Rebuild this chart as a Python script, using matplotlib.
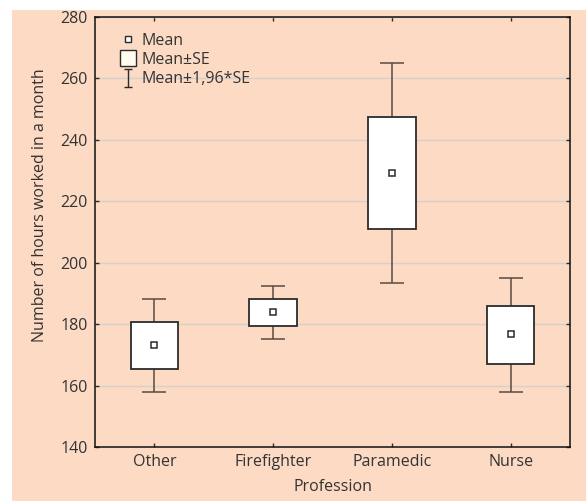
import numpy as np
import matplotlib.pyplot as plt
from matplotlib.lines import Line2D
from matplotlib.path import Path
from matplotlib.patches import Rectangle

plt.rcParams['font.family'] = ['Open Sans', 'DejaVu Sans']

# ---------- data ----------
professions = ["Other", "Firefighter", "Paramedic", "Nurse"]
means = [173.1, 183.9, 229.2, 176.7]
se_low = [165.4, 179.3, 211.0, 167.0]
se_high = [180.8, 188.1, 247.3, 185.8]
ci_low = [158.0, 175.1, 193.5, 157.9]
ci_high = [188.2, 192.4, 264.8, 195.0]
yticks = [140, 160, 180, 200, 220, 240, 260, 280]

peach = "#fddac4"
edge = "#2b2b2b"
whisk = "#5a4a44"
text_col = "#333333"
fs = 11.5

fig = plt.figure(figsize=(5.86, 5.01), dpi=100)
fig.patches.append(Rectangle((12 / 586, 0), 1 - 12 / 586, 491 / 501,
                             transform=fig.transFigure, facecolor=peach,
                             edgecolor="none", zorder=-10))
ax = fig.add_axes([0.1621, 0.1074, 0.8106, 0.8593])
ax.set_facecolor(peach)

x = np.arange(len(professions))
box_w = 0.40
cap_w = 0.20

# ---------- whiskers (mean +- 1.96*SE) ----------
ax.vlines(x, ci_low, se_low, color=whisk, lw=1.1, zorder=2)
ax.vlines(x, se_high, ci_high, color=whisk, lw=1.1, zorder=2)
ax.hlines(ci_low, x - cap_w / 2, x + cap_w / 2, color=whisk, lw=1.1, zorder=2)
ax.hlines(ci_high, x - cap_w / 2, x + cap_w / 2, color=whisk, lw=1.1, zorder=2)

# ---------- boxes (mean +- SE) ----------
heights = np.array(se_high) - np.array(se_low)
ax.bar(x, heights, bottom=se_low, width=box_w, facecolor="white",
       edgecolor=edge, linewidth=1.3, zorder=3)

# ---------- means ----------
ax.plot(x, means, ls="none", marker="s", ms=4.5, mfc="white", mec=edge,
        mew=1.1, zorder=4)

# ---------- axes ----------
ax.set_xlim(-0.5, 3.5)
ax.set_ylim(140, 280)
ax.set_xticks(x)
ax.set_xticklabels(professions)
ax.set_yticks(yticks)
ax.yaxis.grid(True, color="#d4d0cc", lw=1.0)
ax.set_axisbelow(True)
ax.tick_params(direction="in", length=3, width=1, top=True, right=True,
               labelsize=fs, labelcolor=text_col, color=edge, pad=5)
for s in ax.spines.values():
    s.set_color("#111111")
    s.set_linewidth(1.1)

ax.set_xlabel("Profession", fontsize=fs, color=text_col)
ax.set_ylabel("Number of hours worked in a month", fontsize=fs,
              color=text_col)
ax.xaxis.set_label_coords(0.5, -0.075)
ax.yaxis.set_label_coords(-0.098, 0.563)

# ---------- legend ----------
ibar = Path([(-0.45, 1), (0.45, 1), (0, 1), (0, -1), (-0.45, -1), (0.45, -1)],
            [Path.MOVETO, Path.LINETO, Path.MOVETO, Path.LINETO,
             Path.MOVETO, Path.LINETO])
handles = [
    Line2D([], [], ls="none", marker="s", ms=4.5, mfc="white", mec=edge, mew=1.0),
    Line2D([], [], ls="none", marker="s", ms=12, mfc="#fffbef", mec=edge, mew=1.0),
    Line2D([], [], ls="none", marker=ibar, ms=13, mec=edge, mew=1.0),
]
leg = ax.legend(handles, ["Mean", "Mean\u00b1SE", "Mean\u00b11,96*SE"],
                loc="upper left", bbox_to_anchor=(0.035, 0.985), frameon=False,
                fontsize=fs, handlelength=0.9, handletextpad=0.35,
                labelspacing=0.2, borderaxespad=0.2)
for t in leg.get_texts():
    t.set_color(text_col)

fig.savefig("out.png", dpi=100)
